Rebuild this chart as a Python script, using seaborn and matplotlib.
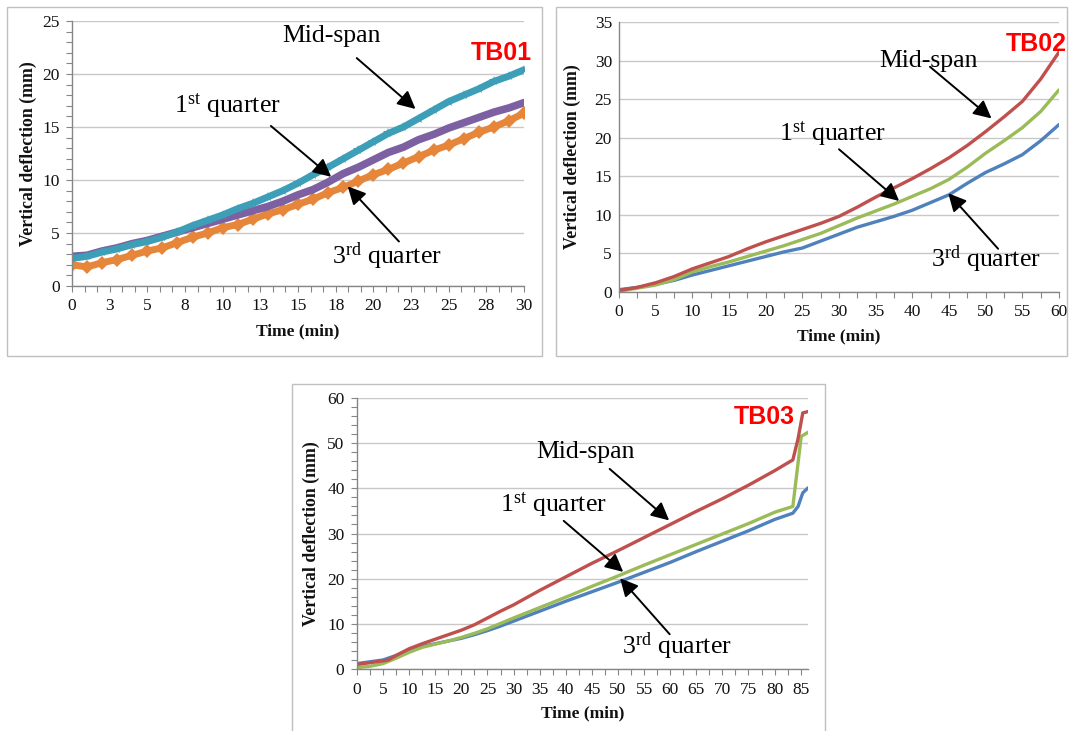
import matplotlib
matplotlib.use("Agg")
import matplotlib.pyplot as plt
import numpy as np
import pandas as pd
import seaborn as sns
from matplotlib.patches import Rectangle
from matplotlib.ticker import MultipleLocator

# ---------------- data ----------------
# TB01 (0-30 min, readings every minute)
tb01_time = list(range(0, 31))
tb01_mid = [2.6, 2.8, 3.2, 3.5, 3.9, 4.2, 4.6, 5.1, 5.7, 6.2, 6.7, 7.3, 7.8, 8.4, 9.0,
            9.7, 10.5, 11.2, 12.0, 12.8, 13.6, 14.4, 15.0, 15.8, 16.6, 17.4, 18.0,
            18.6, 19.3, 19.8, 20.4]
tb01_q1 = [2.8, 2.9, 3.3, 3.6, 4.0, 4.3, 4.7, 5.1, 5.5, 5.9, 6.3, 6.7, 7.1, 7.5, 8.0,
           8.6, 9.1, 9.8, 10.6, 11.2, 11.9, 12.6, 13.1, 13.8, 14.3, 14.9, 15.4, 15.9,
           16.4, 16.8, 17.3]
tb01_q3 = [2.0, 1.8, 2.2, 2.5, 2.9, 3.3, 3.6, 4.1, 4.6, 5.0, 5.5, 5.8, 6.3, 6.8, 7.2,
           7.7, 8.2, 8.8, 9.3, 9.9, 10.5, 11.0, 11.6, 12.2, 12.8, 13.3, 13.9, 14.5,
           15.0, 15.6, 16.3]

# TB02 (0-60 min, readings every 2.5 min)
tb02_time = [0, 2.5, 5, 7.5, 10, 12.5, 15, 17.5, 20, 22.5, 25, 27.5, 30, 32.5, 35,
             37.5, 40, 42.5, 45, 47.5, 50, 52.5, 55, 57.5, 60]
tb02_mid = [0.2, 0.6, 1.2, 2.0, 3.0, 3.8, 4.6, 5.6, 6.5, 7.3, 8.1, 8.9, 9.8, 11.0, 12.3,
            13.5, 14.7, 16.0, 17.4, 19.0, 20.8, 22.7, 24.7, 27.6, 31.1]
tb02_q1 = [0.1, 0.5, 0.9, 1.6, 2.6, 3.3, 3.9, 4.6, 5.3, 6.0, 6.8, 7.6, 8.6, 9.6, 10.5,
           11.4, 12.4, 13.4, 14.6, 16.2, 18.0, 19.6, 21.3, 23.4, 26.2]
tb02_q3 = [0.3, 0.6, 1.0, 1.5, 2.2, 2.8, 3.4, 4.0, 4.6, 5.2, 5.7, 6.6, 7.5, 8.4, 9.1,
           9.8, 10.6, 11.6, 12.6, 14.1, 15.5, 16.6, 17.8, 19.6, 21.7]

# TB03 (0-86 min, sudden run-away at the end)
tb03_time_mid = [0, 2.5, 5, 6, 7.5, 10, 12.5, 15, 17.5, 20, 22.5, 25, 27.5, 30, 35, 40,
                 45, 50, 55, 60, 65, 70, 75, 80, 83.5, 84.5, 85.4, 86.4]
tb03_mid = [1.0, 1.4, 1.8, 2.0, 3.0, 4.5, 5.6, 6.6, 7.6, 8.6, 9.8, 11.3, 12.8, 14.2,
            17.4, 20.4, 23.4, 26.2, 29.1, 32.0, 34.9, 37.7, 40.7, 43.9, 46.3, 51.0,
            56.7, 57.0]
tb03_time_q1 = [0, 2.5, 5, 7.5, 10, 12.5, 15, 17.5, 20, 22.5, 25, 27.5, 30, 35, 40, 45,
                50, 55, 60, 65, 70, 75, 80, 83.5, 85.1, 86.4]
tb03_q1 = [0.3, 0.6, 1.2, 2.4, 3.7, 4.8, 5.5, 6.2, 7.0, 7.9, 8.9, 10.1, 11.3, 13.6,
           15.9, 18.3, 20.6, 23.0, 25.3, 27.6, 29.9, 32.2, 34.7, 36.0, 51.5, 52.4]
tb03_time_q3 = [0, 2.5, 5, 7.5, 10, 12.5, 15, 17.5, 20, 22.5, 25, 27.5, 30, 35, 40, 45,
                50, 55, 60, 65, 70, 75, 80, 83.5, 84.5, 85.4, 86.4]
tb03_q3 = [1.2, 1.6, 2.0, 3.0, 4.2, 5.0, 5.6, 6.2, 6.8, 7.6, 8.5, 9.5, 10.6, 12.8, 15.0,
           17.1, 19.2, 21.4, 23.6, 26.0, 28.3, 30.6, 33.1, 34.5, 36.0, 39.0, 40.1]

tb01_xticks = [0, 2.5, 5, 7.5, 10, 12.5, 15, 17.5, 20, 22.5, 25, 27.5, 30]
tb01_xticklabels = ["0", "3", "5", "8", "10", "13", "15", "18", "20", "23", "25", "28", "30"]

# ---------------- style ----------------
sns.set_theme(style="white")
plt.rcParams["font.family"] = ["Liberation Serif", "DejaVu Serif"]
plt.rcParams["mathtext.fontset"] = "custom"
plt.rcParams["mathtext.rm"] = "Liberation Serif"
plt.rcParams["mathtext.it"] = "Liberation Serif:italic"
plt.rcParams["mathtext.bf"] = "Liberation Serif:bold"

W, H = 1070, 731
fig = plt.figure(figsize=(W / 100, H / 100), dpi=100)
fig.patch.set_facecolor("white")


def px_axes(left, right, top, bottom):
    return fig.add_axes([left / W, 1 - bottom / H, (right - left) / W, (bottom - top) / H])


def frame(left, right, top, bottom):
    fig.add_artist(Rectangle((left / W, 1 - bottom / H), (right - left) / W, (bottom - top) / H,
                             transform=fig.transFigure, fill=False, ec="#BFBFBF", lw=1.0))


AXIS_COL = "#868686"
GRID_COL = "#C8C8C8"


def style_axes(ax, xlim, ylim, ystep, yminor, xlabel_y, ylabel_x, ytick_len=4):
    ax.set_xlim(*xlim)
    ax.set_ylim(*ylim)
    ax.yaxis.set_major_locator(MultipleLocator(ystep))
    if yminor:
        ax.yaxis.set_minor_locator(MultipleLocator(yminor))
    ax.grid(False)
    ax.yaxis.grid(True, which="major", color=GRID_COL, lw=1.0)
    ax.set_axisbelow(True)
    for s in ("top", "right"):
        ax.spines[s].set_visible(False)
    for s in ("left", "bottom"):
        ax.spines[s].set_color(AXIS_COL)
        ax.spines[s].set_linewidth(1.0)
    ax.tick_params(axis="x", which="both", direction="out", length=4, width=0.8,
                   color=AXIS_COL, bottom=True, labelsize=12.5, pad=5, labelcolor="#111111")
    ax.tick_params(axis="y", which="both", direction="out", length=ytick_len, width=0.8,
                   color=AXIS_COL, left=True, labelsize=12.5, pad=5, labelcolor="#111111")
    ax.set_xlabel("Time (min)", fontsize=12.5, fontweight="bold", color="#111111")
    ax.set_ylabel("Vertical deflection (mm)", fontsize=12.8, fontweight="bold", color="#111111")
    ax.xaxis.set_label_coords(0.5, xlabel_y)
    ax.xaxis.label.set_va("center")
    ax.yaxis.set_label_coords(ylabel_x, 0.5)
    ax.yaxis.label.set_va("center")


ARROW = dict(arrowstyle="-|>,head_length=0.6,head_width=0.3", color="black", lw=1.4,
             mutation_scale=18, shrinkA=0, shrinkB=0)


def callout(ax, text, pos, start, tip):
    ax.text(pos[0], pos[1], text, ha="center", va="center", fontsize=18.5, color="black",
            zorder=6)
    ax.annotate("", xy=tip, xytext=start, arrowprops=ARROW, zorder=7)


def tag(ax, text, x, y):
    ax.text(x, y, text, ha="right", va="center", fontsize=18, fontweight="bold",
            color="#FF0000", family=["Liberation Sans", "DejaVu Sans"], zorder=6)


MID = "Mid-span"
Q1 = r"1$^{\mathrm{st}}$ quarter"
Q3 = r"3$^{\mathrm{rd}}$ quarter"

# ---------------- TB01 ----------------
frame(7, 542, 7, 356)
ax1 = px_axes(72, 524, 21, 286)
d1 = pd.DataFrame({"t": tb01_time, "mid": tb01_mid, "q1": tb01_q1, "q3": tb01_q3})
sns.lineplot(data=d1, x="t", y="q3", ax=ax1, color="#E6863A", lw=5.0, marker="D",
             markersize=7.5, markeredgewidth=0, sort=False)
sns.lineplot(data=d1, x="t", y="q1", ax=ax1, color="#7D60A2", lw=5.5, sort=False)
sns.lineplot(data=d1, x="t", y="mid", ax=ax1, color="#3D9EB7", lw=5.0, marker="*",
             markersize=7, markeredgewidth=0, sort=False)
style_axes(ax1, (0, 30), (0, 25), 5, 1, -0.17, -0.097)
ax1.set_xticks(tb01_xticks)
ax1.set_xticklabels(tb01_xticklabels)
ax1.xaxis.set_minor_locator(MultipleLocator(2.5 / 3))
callout(ax1, MID, (17.2, 23.6), (18.9, 21.5), (22.8, 16.7))
callout(ax1, Q1, (10.3, 17.0), (13.2, 15.1), (17.2, 10.3))
callout(ax1, Q3, (20.9, 2.8), (21.7, 4.2), (18.3, 9.4))
tag(ax1, "TB01", 30.5, 22.0)

# ---------------- TB02 ----------------
frame(556, 1067, 7, 356)
ax2 = px_axes(619, 1059, 22, 292)
d2 = pd.DataFrame({"t": tb02_time, "mid": tb02_mid, "q1": tb02_q1, "q3": tb02_q3})
sns.lineplot(data=d2, x="t", y="q3", ax=ax2, color="#4F81BD", lw=2.4, sort=False)
sns.lineplot(data=d2, x="t", y="q1", ax=ax2, color="#9BBB59", lw=2.4, sort=False)
sns.lineplot(data=d2, x="t", y="mid", ax=ax2, color="#C0504D", lw=2.4, sort=False)
style_axes(ax2, (0, 60), (0, 35), 5, None, -0.165, -0.105, ytick_len=0)
ax2.xaxis.set_major_locator(MultipleLocator(5))
ax2.xaxis.set_minor_locator(MultipleLocator(2.5))
callout(ax2, MID, (42.2, 30.0), (42.4, 29.2), (50.8, 22.5))
callout(ax2, Q1, (29.1, 20.6), (30.0, 18.5), (38.2, 11.8))
callout(ax2, Q3, (50.0, 4.2), (51.7, 5.6), (44.9, 12.8))
tag(ax2, "TB02", 61.05, 32.2)

# ---------------- TB03 ----------------
frame(292, 825, 384, 760)
ax3 = px_axes(357, 808, 398, 669)
sns.lineplot(x=tb03_time_q3, y=tb03_q3, ax=ax3, color="#4F81BD", lw=2.4, sort=False)
sns.lineplot(x=tb03_time_q1, y=tb03_q1, ax=ax3, color="#9BBB59", lw=2.4, sort=False)
sns.lineplot(x=tb03_time_mid, y=tb03_mid, ax=ax3, color="#C0504D", lw=2.4, sort=False)
style_axes(ax3, (0, 86.4), (0, 60), 10, 2, -0.165, -0.101)
ax3.xaxis.set_major_locator(MultipleLocator(5))
ax3.xaxis.set_minor_locator(MultipleLocator(2.5))
callout(ax3, MID, (43.7, 48.0), (48.4, 44.3), (59.8, 32.9))
callout(ax3, Q1, (37.6, 36.4), (39.6, 32.8), (51.0, 21.5))
callout(ax3, Q3, (61.3, 5.0), (59.9, 7.7), (50.4, 20.1))
tag(ax3, "TB03", 83.9, 55.9)

fig.savefig("out.png", dpi=100, facecolor="white")
